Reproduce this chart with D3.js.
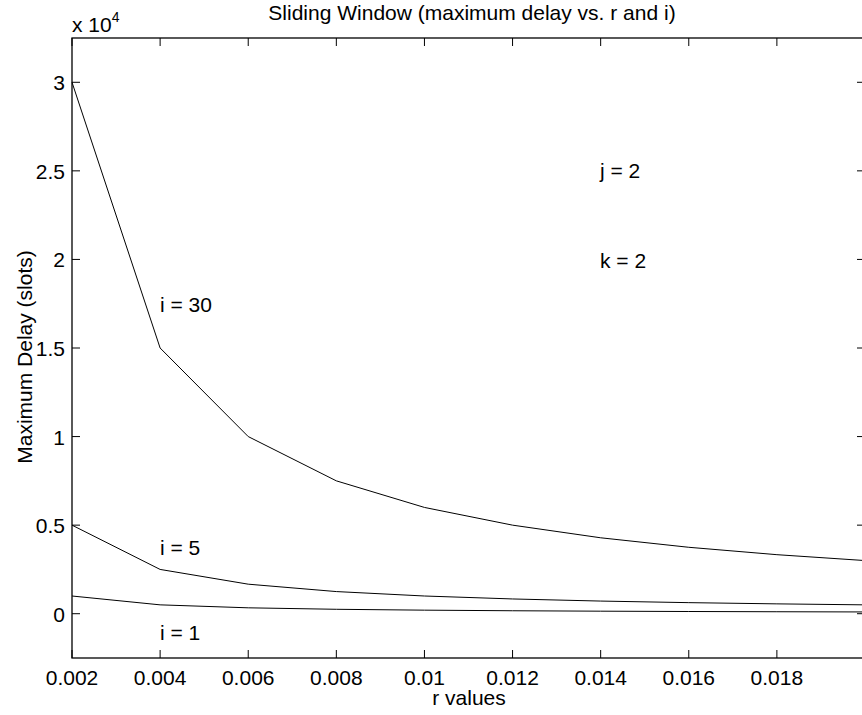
<!DOCTYPE html>
<html>
<head>
<meta charset="utf-8">
<script src="https://cdn.jsdelivr.net/npm/d3@7"></script>
<style>
body { margin: 0; background: #fff; }
text { font-family: "Liberation Sans", Arial, sans-serif; fill: #000; }
</style>
</head>
<body>
<div id="chart"></div>
<script>
var w = 862;
var h = 715;

// data
var rValues = [0.002, 0.004, 0.006, 0.008, 0.010, 0.012, 0.014, 0.016, 0.018, 0.020];
var delayI30 = [30000, 15000, 10000, 7500, 6000, 5000, 4286, 3750, 3333, 3000];
var delayI5 = [5000, 2500, 1667, 1250, 1000, 833, 714, 625, 556, 500];
var delayI1 = [1000, 500, 333, 250, 200, 167, 143, 125, 111, 100];
var xTicks = [0.002, 0.004, 0.006, 0.008, 0.01, 0.012, 0.014, 0.016, 0.018];
var xTickLabels = ["0.002", "0.004", "0.006", "0.008", "0.01", "0.012", "0.014", "0.016", "0.018"];
var yTicks = [0, 5000, 10000, 15000, 20000, 25000, 30000];
var yTickLabels = ["0", "0.5", "1", "1.5", "2", "2.5", "3"];

var mLeft = 72, mRight = 865, mTop = 38, mBottom = 658;
var fs = "21px";

var x = d3.scaleLinear().domain([0.002, 0.02]).range([mLeft, mRight]);
var y = d3.scaleLinear().domain([-2500, 32500]).range([mBottom, mTop]);

var svg = d3.select("#chart")
    .append("svg")
    .attr("width", w)
    .attr("height", h);

var line = d3.line()
    .x(function(d, i) { return x(rValues[i]); })
    .y(function(d) { return y(d); });

[delayI30, delayI5, delayI1].forEach(function(s) {
    svg.append("path")
        .datum(s)
        .attr("d", line)
        .attr("fill", "none")
        .attr("stroke", "#000")
        .attr("stroke-width", 1);
});

// box
svg.append("rect")
    .attr("x", mLeft)
    .attr("y", mTop)
    .attr("width", mRight - mLeft)
    .attr("height", mBottom - mTop)
    .attr("fill", "none")
    .attr("stroke", "#000")
    .attr("stroke-width", 1.3);

// ticks
var tl = 8;
xTicks.forEach(function(t, i) {
    svg.append("line").attr("x1", x(t)).attr("x2", x(t)).attr("y1", mBottom).attr("y2", mBottom - tl)
        .attr("stroke", "#000");
    svg.append("line").attr("x1", x(t)).attr("x2", x(t)).attr("y1", mTop).attr("y2", mTop + tl)
        .attr("stroke", "#000");
    svg.append("text")
        .attr("x", x(t))
        .attr("y", 685)
        .attr("text-anchor", "middle")
        .style("font-size", fs)
        .text(xTickLabels[i]);
});

yTicks.forEach(function(t, i) {
    svg.append("line").attr("x1", mLeft).attr("x2", mLeft + tl).attr("y1", y(t)).attr("y2", y(t))
        .attr("stroke", "#000");
    svg.append("line").attr("x1", mRight).attr("x2", mRight - tl).attr("y1", y(t)).attr("y2", y(t))
        .attr("stroke", "#000");
    svg.append("text")
        .attr("x", 65)
        .attr("y", y(t) + 8)
        .attr("text-anchor", "end")
        .style("font-size", fs)
        .text(yTickLabels[i]);
});

// exponent
var ex = svg.append("text")
    .attr("x", 72)
    .attr("y", 32)
    .style("font-size", fs);
ex.append("tspan").text("x 10");
ex.append("tspan").attr("dy", -10).style("font-size", "14px").text("4");

// title and axis labels
svg.append("text")
    .attr("x", 472)
    .attr("y", 20)
    .attr("text-anchor", "middle")
    .style("font-size", fs)
    .text("Sliding Window (maximum delay vs. r and i)");

svg.append("text")
    .attr("x", 469)
    .attr("y", 705)
    .attr("text-anchor", "middle")
    .style("font-size", fs)
    .text("r values");

svg.append("text")
    .attr("transform", "translate(32,357) rotate(-90)")
    .attr("text-anchor", "middle")
    .style("font-size", fs)
    .text("Maximum Delay (slots)");

// annotations
var notes = [
    { t: "i = 30", x: 160, y: 312 },
    { t: "i = 5", x: 160, y: 555 },
    { t: "i = 1", x: 160, y: 640 },
    { t: "j = 2", x: 600, y: 178 },
    { t: "k = 2", x: 600, y: 268 }
];
notes.forEach(function(n) {
    svg.append("text")
        .attr("x", n.x)
        .attr("y", n.y)
        .style("font-size", fs)
        .text(n.t);
});
</script>
</body>
</html>
